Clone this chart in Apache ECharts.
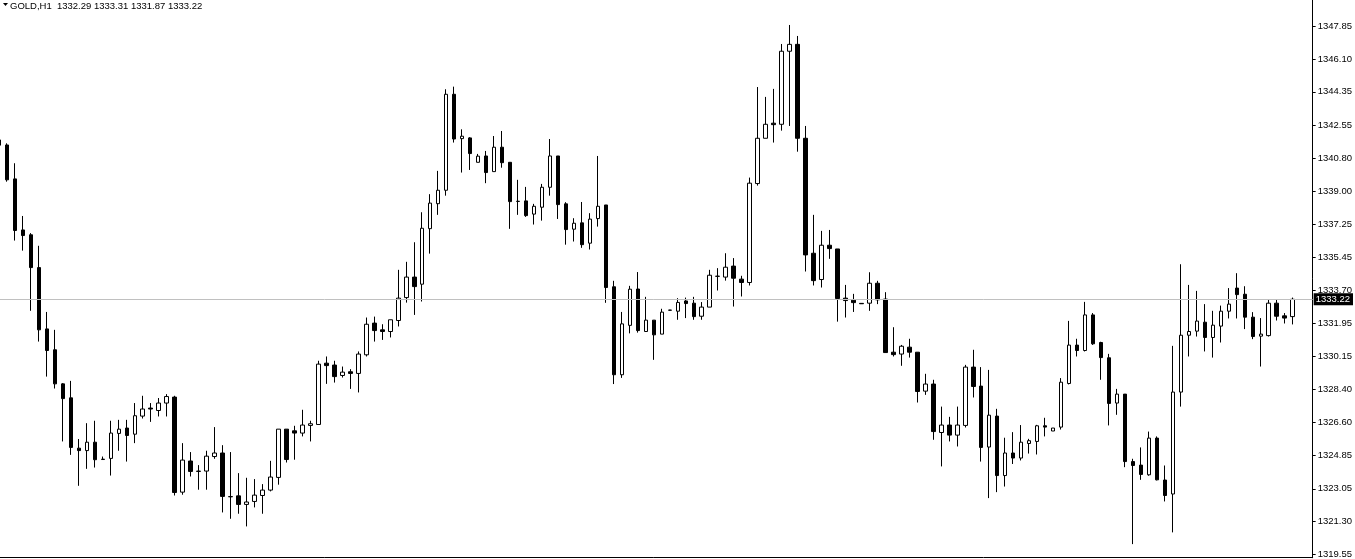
<!DOCTYPE html>
<html>
<head>
<meta charset="utf-8">
<script src="https://cdn.jsdelivr.net/npm/echarts@6/dist/echarts.min.js"></script>
<style>
html,body{margin:0;padding:0;background:#ffffff;overflow:hidden;}
#chart{position:absolute;left:-5px;top:0;width:1360px;height:559px;}
</style>
</head>
<body>
<div id="chart"></div>
<script>
const symbolName = 'GOLD,H1';

const opens = [
1341.77,1341.50,1339.68,1336.94,1336.68,1334.92,1331.63,1330.51,1328.68,1327.93,
1325.23,1325.10,1325.55,1324.62,1324.68,1326.02,1326.31,1325.98,1326.95,1327.38,
1327.25,1327.65,1327.97,1322.87,1324.54,1323.98,1324.00,1324.78,1324.97,1322.63,
1322.67,1322.21,1322.37,1322.69,1322.98,1323.66,1326.25,1326.16,1326.04,1326.45,
1326.50,1329.79,1329.69,1329.13,1329.33,1329.24,1330.24,1331.94,1331.58,1331.49,
1332.08,1333.31,1334.41,1334.03,1337.01,1338.35,1339.07,1344.22,1341.84,1341.88,
1340.57,1340.91,1340.07,1341.38,1340.57,1338.47,1338.50,1337.79,1338.16,1339.23,
1340.91,1338.34,1336.98,1337.32,1336.23,1337.55,1338.28,1333.89,1329.17,1331.82,
1333.77,1331.49,1332.10,1331.35,1332.63,1332.58,1333.13,1333.01,1332.31,1332.80,
1334.45,1334.41,1335.00,1334.30,1334.12,1339.43,1341.86,1342.67,1342.61,1346.53,
1346.90,1341.86,1335.69,1334.28,1336.12,1335.92,1333.28,1333.17,1333.00,1333.01,
1334.08,1333.23,1330.38,1330.28,1330.65,1330.38,1328.29,1328.67,1326.07,1326.47,
1325.93,1326.45,1329.58,1328.56,1325.29,1326.95,1323.76,1324.97,1324.70,1325.48,
1325.59,1326.43,1326.15,1326.36,1328.70,1330.76,1330.47,1332.38,1330.90,1330.08,
1327.65,1328.13,1324.51,1324.32,1323.80,1325.77,1323.52,1322.77,1328.24,1331.29,
1331.51,1331.99,1331.17,1331.78,1332.58,1333.82,1333.49,1332.26,1331.24,1331.27,
1333.01,1332.33,1332.29
];
const highs = [
1341.82,1341.59,1340.52,1337.69,1336.77,1336.09,1332.54,1331.58,1328.72,1328.84,
1325.72,1326.57,1326.70,1324.78,1326.70,1326.75,1326.75,1327.65,1328.04,1327.65,
1327.92,1328.13,1328.04,1325.50,1325.02,1324.32,1325.09,1326.36,1325.39,1325.02,
1323.89,1323.64,1323.57,1323.30,1324.55,1326.25,1326.25,1326.43,1327.29,1326.70,
1329.92,1330.15,1329.92,1329.61,1329.47,1330.42,1332.24,1332.29,1331.88,1332.12,
1334.80,1335.23,1336.28,1337.89,1338.86,1340.11,1344.49,1344.63,1342.34,1341.92,
1341.02,1341.18,1341.98,1342.25,1340.57,1339.63,1339.25,1338.34,1339.41,1341.82,
1340.91,1338.43,1337.57,1338.44,1337.84,1340.91,1338.28,1334.21,1332.54,1333.94,
1334.68,1333.35,1332.10,1332.71,1332.65,1333.28,1333.31,1333.35,1333.07,1334.80,
1334.89,1335.69,1335.43,1334.48,1339.75,1344.61,1344.08,1344.51,1346.92,1347.94,
1347.35,1342.52,1337.75,1336.89,1336.94,1335.92,1333.99,1333.51,1333.01,1334.67,
1334.21,1333.60,1331.72,1330.77,1331.10,1330.38,1329.22,1328.90,1327.46,1326.91,
1327.46,1329.70,1330.51,1329.58,1329.43,1327.34,1325.79,1326.09,1326.47,1325.73,
1326.48,1326.86,1326.31,1328.99,1332.06,1331.10,1333.08,1332.48,1330.94,1330.29,
1328.41,1328.13,1324.66,1325.27,1326.12,1325.86,1324.30,1330.72,1335.10,1333.99,
1333.67,1332.96,1332.60,1332.88,1333.82,1334.62,1333.92,1332.53,1332.21,1333.23,
1333.19,1332.48,1333.31
];
const lows = [
1341.45,1339.53,1336.37,1335.83,1332.60,1330.95,1329.07,1328.43,1325.59,1324.87,
1323.21,1324.12,1324.19,1324.62,1323.76,1325.09,1324.51,1325.50,1326.82,1326.64,
1326.93,1326.93,1322.69,1322.73,1323.71,1323.00,1323.00,1324.66,1321.78,1321.44,
1321.71,1321.03,1322.05,1321.71,1322.91,1323.27,1324.46,1324.61,1325.86,1325.59,
1326.50,1328.68,1328.75,1329.02,1328.41,1328.22,1330.15,1330.95,1331.04,1331.17,
1331.76,1333.04,1332.38,1333.10,1335.67,1337.75,1338.78,1341.63,1340.02,1340.16,
1340.57,1339.45,1340.07,1340.28,1337.00,1337.75,1337.64,1337.23,1337.44,1338.78,
1337.53,1336.15,1336.32,1335.98,1335.89,1337.12,1333.03,1328.67,1329.00,1331.39,
1331.43,1331.49,1329.97,1331.35,1332.62,1332.12,1332.21,1332.12,1332.12,1332.80,
1333.69,1334.22,1332.83,1333.37,1333.96,1339.32,1341.86,1341.63,1342.27,1342.52,
1341.14,1334.71,1333.96,1333.85,1335.39,1332.02,1332.24,1332.54,1332.97,1332.60,
1332.96,1330.36,1330.15,1329.65,1330.09,1327.68,1328.09,1325.68,1324.25,1325.59,
1325.32,1326.34,1327.95,1324.51,1322.55,1322.87,1323.17,1324.38,1324.57,1324.94,
1324.89,1325.86,1326.15,1326.23,1328.65,1330.15,1330.42,1330.77,1328.90,1326.45,
1327.02,1324.21,1320.08,1323.53,1323.75,1323.50,1322.37,1320.71,1327.46,1330.15,
1331.22,1330.42,1330.09,1330.90,1332.19,1332.19,1331.62,1331.08,1329.61,1331.22,
1332.08,1331.92,1331.87
];
const closes = [
1341.49,1339.63,1336.91,1336.64,1334.92,1331.58,1330.47,1328.68,1327.89,1325.27,
1325.10,1325.55,1324.61,1324.64,1326.04,1326.25,1325.91,1326.97,1327.33,1327.33,
1327.65,1328.00,1322.85,1324.59,1323.98,1324.00,1324.80,1324.97,1322.64,1322.62,
1322.21,1322.34,1322.71,1322.98,1323.68,1326.25,1324.62,1326.04,1326.47,1326.54,
1329.74,1329.66,1329.07,1329.31,1329.24,1330.28,1331.88,1331.54,1331.49,1332.12,
1333.28,1334.41,1333.90,1337.03,1338.38,1339.07,1344.22,1341.82,1341.97,1341.04,
1340.90,1340.02,1341.38,1340.55,1338.46,1338.48,1337.71,1338.21,1339.23,1340.91,
1338.30,1336.96,1337.30,1336.15,1337.52,1338.21,1333.85,1329.17,1331.90,1333.76,
1331.54,1332.10,1331.31,1332.53,1332.64,1333.05,1332.99,1332.29,1332.80,1334.51,
1334.46,1334.94,1334.35,1334.12,1339.45,1341.86,1342.61,1342.59,1346.53,1346.90,
1341.86,1335.60,1334.22,1336.12,1335.94,1333.26,1333.15,1333.04,1332.98,1334.08,
1333.19,1330.36,1330.25,1330.70,1330.38,1328.27,1328.67,1326.12,1326.47,1325.93,
1326.47,1329.58,1328.54,1325.27,1327.00,1323.76,1324.97,1324.70,1325.55,1325.63,
1326.43,1326.36,1326.31,1328.77,1330.76,1330.47,1332.38,1330.83,1330.09,1327.63,
1328.13,1324.51,1324.30,1323.82,1325.77,1323.53,1322.69,1328.24,1331.29,1331.49,
1332.05,1331.17,1331.83,1332.58,1332.96,1333.47,1332.26,1331.22,1331.35,1333.01,
1332.31,1332.21,1333.22
];

const tickLabels = ['1347.85','1346.10','1344.35','1342.55','1340.80','1339.00','1337.25','1335.45',
  '1333.70','1331.95','1330.15','1328.40','1326.60','1324.85','1323.05','1321.30','1319.55'];

const emptyBarsRight = 2;
const yMin = 1319.35;
const yMax = 1349.28;

const barCount = opens.length + emptyBarsRight;
const categories = [];
for (let i = 0; i < barCount; i++) categories.push(String(i + 1));

const ohlc = opens.map((o, i) => [o, closes[i], lows[i], highs[i]]);
const tickValues = tickLabels.map(Number);
const last = opens.length - 1;
const lastClose = closes[last];
const fmt = v => v.toFixed(2);
const headerText = symbolName + '  ' + fmt(opens[last]) + ' ' + fmt(highs[last]) + ' ' + fmt(lows[last]) + ' ' + fmt(closes[last]);

const FONT = 'Liberation Sans';

const chart = echarts.init(document.getElementById('chart'), null, {renderer: 'canvas'});
chart.setOption({
  animation: false,
  backgroundColor: '#ffffff',
  grid: {left: 0, right: 40, top: 0, bottom: 1, containLabel: false},
  xAxis: {
    type: 'category',
    data: categories,
    boundaryGap: true,
    axisLine: {show: true, onZero: false, lineStyle: {color: '#000000', width: 1}},
    axisTick: {show: false},
    axisLabel: {show: false},
    splitLine: {show: false}
  },
  yAxis: {
    type: 'value',
    position: 'right',
    min: yMin,
    max: yMax,
    scale: true,
    splitLine: {show: false},
    axisLine: {show: true, lineStyle: {color: '#000000', width: 1}},
    axisTick: {show: true, inside: false, length: 3, customValues: tickValues, lineStyle: {color: '#000000', width: 1}},
    axisLabel: {
      show: true,
      customValues: tickValues,
      margin: 5,
      color: '#000000',
      fontFamily: FONT,
      fontSize: 9.5,
      formatter: function (v) {
        let best = tickLabels[0], bd = Infinity;
        tickLabels.forEach(t => { const d = Math.abs(Number(t) - v); if (d < bd) { bd = d; best = t; } });
        return best;
      }
    }
  },
  series: [{
    type: 'candlestick',
    data: ohlc,
    barWidth: 4,
    itemStyle: {
      color: '#ffffff',
      color0: '#000000',
      borderColor: '#000000',
      borderColor0: '#000000',
      borderWidth: 1
    },
    emphasis: {disabled: true},
    markLine: {
      silent: true,
      symbol: ['none', 'none'],
      animation: false,
      lineStyle: {type: 'solid', color: '#c0c0c0', width: 1},
      label: {
        show: true,
        position: 'end',
        distance: 1,
        formatter: fmt(lastClose),
        color: '#ffffff',
        backgroundColor: '#000000',
        fontFamily: FONT,
        fontSize: 9.5,
        padding: [1, 3, 1, 2]
      },
      data: [{yAxis: lastClose}]
    }
  }],
  graphic: [
    {type: 'polygon', shape: {points: [[8, 3], [13, 3], [10.5, 6]]}, style: {fill: '#000000'}},
    {type: 'text', left: 15, top: 1, style: {text: headerText, fill: '#000000', font: '9.5px "' + FONT + '"'}}
  ]
});
</script>
</body>
</html>
